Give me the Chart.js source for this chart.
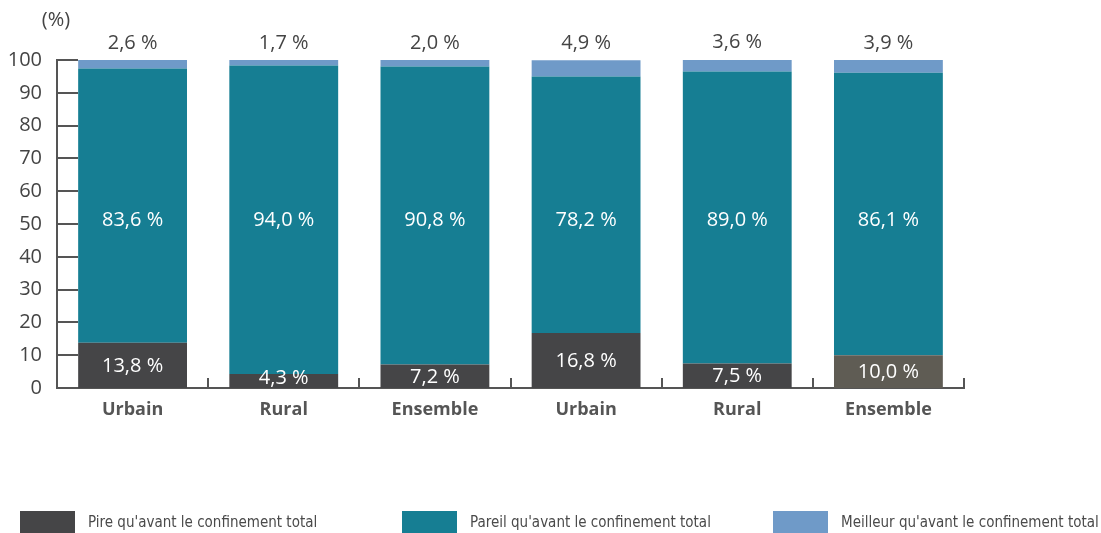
<!DOCTYPE html>
<html>
<head>
<meta charset="utf-8">
<script src="https://cdn.jsdelivr.net/npm/chart.js@4.4.1/dist/chart.umd.min.js"></script>
<style>
  html, body { margin: 0; padding: 0; background: #fff; }
  #wrap { position: relative; width: 1101px; height: 533px; }
  #legend { position: absolute; left: 0; top: 511px; width: 1101px; height: 22px; }
  .item { position: absolute; top: 0; height: 22px; display: flex; align-items: center; }
  .swatch { width: 55px; height: 22px; margin-right: 13px; }
  .item span { font-family: 'Liberation Sans Narrow', 'DejaVu Sans Condensed', sans-serif; font-size: 15px; color: #4a4a4a; }
</style>
</head>
<body>
<div id="wrap">
  <canvas id="chart" width="1101" height="533"></canvas>
  <div id="legend"></div>
</div>
<script>
const categories = ['Urbain', 'Rural', 'Ensemble', 'Urbain', 'Rural', 'Ensemble'];
const pire = [13.8, 4.3, 7.2, 16.8, 7.5, 10.0];
const pareil = [83.6, 94.0, 90.8, 78.2, 89.0, 86.1];
const meilleur = [2.6, 1.7, 2.0, 4.9, 3.6, 3.9];
const yTicks = [0, 10, 20, 30, 40, 50, 60, 70, 80, 90, 100];

const seriesNames = [
  "Pire qu'avant le confinement total",
  "Pareil qu'avant le confinement total",
  "Meilleur qu'avant le confinement total",
];
const DARK = '#454547';
const TEAL = '#167e93';
const LIGHT = '#6f9ac8';
const FONT = "'Open Sans', 'Noto Sans', sans-serif";

const fmt = v => v.toFixed(1).replace('.', ',') + ' %';

// value labels, short axis ticks and the "(%)" unit
const decorations = {
  id: 'decorations',
  afterDatasetsDraw(chart) {
    const { ctx, chartArea } = chart;
    const x = chart.scales.x, y = chart.scales.y;
    ctx.save();
    ctx.textAlign = 'center';
    ctx.textBaseline = 'middle';
    ctx.font = '20px ' + FONT;

    const m0 = chart.getDatasetMeta(0), m1 = chart.getDatasetMeta(1), m2 = chart.getDatasetMeta(2);
    categories.forEach((c, i) => {
      const b0 = m0.data[i], b1 = m1.data[i], b2 = m2.data[i];
      ctx.fillStyle = '#fff';
      const cy0 = Math.min((b0.y + b0.base) / 2, chartArea.bottom - 11);
      ctx.fillText(fmt(pire[i]), b0.x, cy0 + 1);
      ctx.fillText(fmt(pareil[i]), b1.x, y.getPixelForValue(51));
      ctx.fillStyle = '#444';
      ctx.fillText(fmt(meilleur[i]), b2.x, b2.y - 17);
    });

    // short ticks on the value axis, pointing inwards
    ctx.strokeStyle = '#555';
    ctx.lineWidth = 2;
    yTicks.forEach(t => {
      const py = Math.round(y.getPixelForValue(t));
      ctx.beginPath();
      ctx.moveTo(chartArea.left, py);
      ctx.lineTo(chartArea.left + 21, py);
      ctx.stroke();
    });
    // short upward ticks between categories
    for (let i = 1; i <= categories.length; i++) {
      const px = Math.round(x.getPixelForValue(i - 0.5));
      ctx.beginPath();
      ctx.moveTo(px, chartArea.bottom);
      ctx.lineTo(px, chartArea.bottom - 10);
      ctx.stroke();
    }

    ctx.fillStyle = '#444';
    ctx.font = '20px ' + FONT;
    ctx.fillText('(%)', 56, 20);
    ctx.restore();
  }
};

const chart = new Chart(document.getElementById('chart'), {
  type: 'bar',
  data: {
    labels: categories,
    datasets: [
      { label: seriesNames[0], data: pire, backgroundColor: [DARK, DARK, DARK, DARK, DARK, '#5f5c54'] },
      { label: seriesNames[1], data: pareil, backgroundColor: TEAL },
      { label: seriesNames[2], data: meilleur, backgroundColor: LIGHT },
    ].map(d => ({ ...d, barPercentage: 0.72, categoryPercentage: 1, borderWidth: 0 })),
  },
  options: {
    responsive: false,
    animation: false,
    layout: { padding: { left: 0, right: 137, top: 60, bottom: 0 } },
    plugins: { legend: { display: false }, tooltip: { enabled: false } },
    scales: {
      x: {
        stacked: true,
        grid: { display: false },
        border: { color: '#555', width: 2 },
        ticks: { color: '#555', font: { family: FONT, size: 18, weight: 'bold' }, padding: 3 },
        afterFit: s => { s.height = 145; },
      },
      y: {
        stacked: true,
        min: 0,
        max: 100,
        grid: { display: false, drawTicks: false },
        border: { color: '#555', width: 2 },
        ticks: { stepSize: 10, color: '#444', font: { family: FONT, size: 20 }, padding: 15 },
        afterFit: s => { s.width = 57; },
      },
    },
  },
  plugins: [decorations],
});

// legend row under the chart
const legendX = [20, 402, 773];
const legendColors = [DARK, TEAL, LIGHT];
const legend = document.getElementById('legend');
seriesNames.forEach((name, i) => {
  const item = document.createElement('div');
  item.className = 'item';
  item.style.left = legendX[i] + 'px';
  item.innerHTML = '<div class="swatch" style="background:' + legendColors[i] + '"></div><span>' + name + '</span>';
  legend.appendChild(item);
});
</script>
</body>
</html>
